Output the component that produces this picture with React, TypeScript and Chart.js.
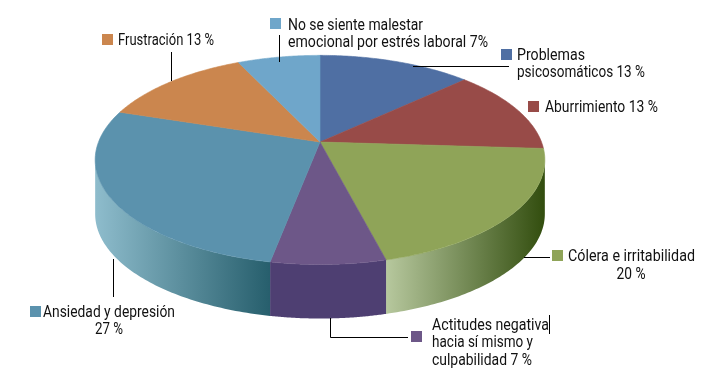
import React, { useEffect, useRef } from "react";
import { Chart, registerables } from "chart.js";

Chart.register(...registerables);

const categories = [
  "Problemas psicosomáticos",
  "Aburrimiento",
  "Cólera e irritabilidad",
  "Actitudes negativa hacia sí mismo y culpabilidad",
  "Ansiedad y depresión",
  "Frustración",
  "No se siente malestar emocional por estrés laboral",
];
const values = [13, 13, 20, 7, 27, 13, 7];
const labelLines = [
  ["Problemas", "psicosomáticos 13 %"],
  ["Aburrimiento 13 %"],
  ["Cólera e irritabilidad", "20 %"],
  ["Actitudes negativa", "hacia sí mismo y", "culpabilidad 7 %"],
  ["Ansiedad y depresión", "27 %"],
  ["Frustración 13 %"],
  ["No se siente malestar", "emocional por estrés laboral 7%"],
];
const colors = ["#4f6fa3", "#984b48", "#8fa458", "#6d5788", "#5b92ad", "#cb864e", "#6fa6ca"];

// styling and layout
const FONT = '16.5px "Roboto", sans-serif';
const APEX = { x: 320, y: 142 };
const RX = 221.5;
const RY = 101.5;
const PERSP = 0.1716;
const DEPTH = 54;
const wallStyle: (null | { from: number; to: number; c0: string; c1: string })[] = [
  null,
  null,
  { from: 386, to: 545, c0: "#b7c89e", c1: "#324d0e" },
  { from: 271, to: 386, c0: "#4e3f72", c1: "#4e3f72" },
  { from: 94, to: 271, c0: "#8fbdcd", c1: "#265e6c" },
  null,
  null,
];
// each text line: x, middle y, fitted width, optional centre alignment
const labelLayout = [
  { box: [501, 49], text: [[517, 56, 68], [517, 73, 128]] },
  { box: [528, 101], text: [[545, 108, 113]] },
  { box: [552, 250], text: [[568, 257, 127], [631, 275, 29, "c"]] },
  { box: [411, 331], text: [[432, 326, 117], [432, 343, 101], [432, 361, 100]] },
  { box: [30, 306], text: [[43, 313, 132], [109, 330, 28, "c"]] },
  { box: [102, 34], text: [[118, 41, 96]] },
  { box: [270, 18], text: [[288, 26, 135], [288, 43, 200]] },
];
const leaders: number[][][] = [
  [[413, 66.5], [509, 66.5]],
  [[524, 257.5], [550, 257.5]],
  [[330.5, 318], [330.5, 337.5], [408, 337.5]],
  [[113.5, 259], [113.5, 297]],
  [[171.5, 52], [171.5, 81]],
  [[279.5, 35], [279.5, 62]],
  [[549.5, 315], [549.5, 334]],
];

function project(a: number, dy = 0) {
  const u = Math.cos(a);
  const v = Math.sin(a);
  const w = 1 - PERSP * v;
  return { x: APEX.x + (RX * u) / w, y: APEX.y + (RY * v) / w + dy };
}

function drawPie(chart: any) {
  const ctx: CanvasRenderingContext2D = chart.ctx;
  const arcs = chart.getDatasetMeta(0).data;
  const limit = Math.asin(PERSP);
  ctx.save();

  // side wall
  arcs.forEach((arc: any, i: number) => {
    const style = wallStyle[i];
    if (!style) return;
    const a0 = Math.max(arc.startAngle, limit);
    const a1 = Math.min(arc.endAngle, Math.PI - limit);
    if (a1 <= a0) return;
    const g = ctx.createLinearGradient(style.from, 0, style.to, 0);
    g.addColorStop(0, style.c0);
    g.addColorStop(1, style.c1);
    ctx.beginPath();
    const n = 80;
    for (let k = 0; k <= n; k++) {
      const p = project(a0 + ((a1 - a0) * k) / n);
      k ? ctx.lineTo(p.x, p.y) : ctx.moveTo(p.x, p.y);
    }
    for (let k = n; k >= 0; k--) {
      const p = project(a0 + ((a1 - a0) * k) / n, DEPTH);
      ctx.lineTo(p.x, p.y);
    }
    ctx.closePath();
    ctx.fillStyle = g;
    ctx.fill();
  });

  // top face
  arcs.forEach((arc: any) => {
    const a0 = arc.startAngle;
    const a1 = arc.endAngle;
    ctx.beginPath();
    ctx.moveTo(APEX.x, APEX.y);
    const n = 80;
    for (let k = 0; k <= n; k++) {
      const p = project(a0 + ((a1 - a0) * k) / n);
      ctx.lineTo(p.x, p.y);
    }
    ctx.closePath();
    ctx.fillStyle = arc.options.backgroundColor;
    ctx.strokeStyle = arc.options.backgroundColor;
    ctx.lineWidth = 0.6;
    ctx.fill();
    ctx.stroke();
  });
  ctx.restore();
}

function drawLabels(chart: any) {
  const ctx: CanvasRenderingContext2D = chart.ctx;
  ctx.save();
  ctx.strokeStyle = "#000";
  ctx.lineWidth = 1;
  leaders.forEach((pts) => {
    ctx.beginPath();
    pts.forEach((p, i) => (i ? ctx.lineTo(p[0], p[1]) : ctx.moveTo(p[0], p[1])));
    ctx.stroke();
  });
  ctx.font = FONT;
  ctx.textBaseline = "middle";
  labelLayout.forEach((l, i) => {
    ctx.fillStyle = colors[i];
    ctx.fillRect(l.box[0], l.box[1], 11, 11);
    ctx.fillStyle = "#111";
    labelLines[i].forEach((line, j) => {
      const t = l.text[j] as any[];
      ctx.save();
      ctx.translate(t[0], t[1]);
      ctx.scale(t[2] / ctx.measureText(line).width, 1);
      ctx.textAlign = t[3] === "c" ? "center" : "left";
      ctx.fillText(line, 0, 0);
      ctx.restore();
    });
  });
  ctx.restore();
}

const pie3d = {
  id: "pie3d",
  beforeDatasetsDraw(chart: any) {
    drawPie(chart);
    return false;
  },
  afterDraw(chart: any) {
    drawLabels(chart);
  },
};

export default function App() {
  const ref = useRef<HTMLCanvasElement>(null);
  useEffect(() => {
    const chart = new Chart(ref.current as HTMLCanvasElement, {
      type: "pie",
      data: {
        labels: categories,
        datasets: [{ data: values, backgroundColor: colors, borderWidth: 0 }],
      },
      options: {
        animation: false,
        responsive: false,
        plugins: { legend: { display: false }, tooltip: { enabled: false } },
      },
      plugins: [pie3d],
    } as any);
    return () => chart.destroy();
  }, []);
  return (
    <div style={{ position: "absolute", left: 0, top: 0, width: 710, height: 376, background: "#fff" }}>
      <canvas ref={ref} width={710} height={376} style={{ display: "block" }} />
    </div>
  );
}
